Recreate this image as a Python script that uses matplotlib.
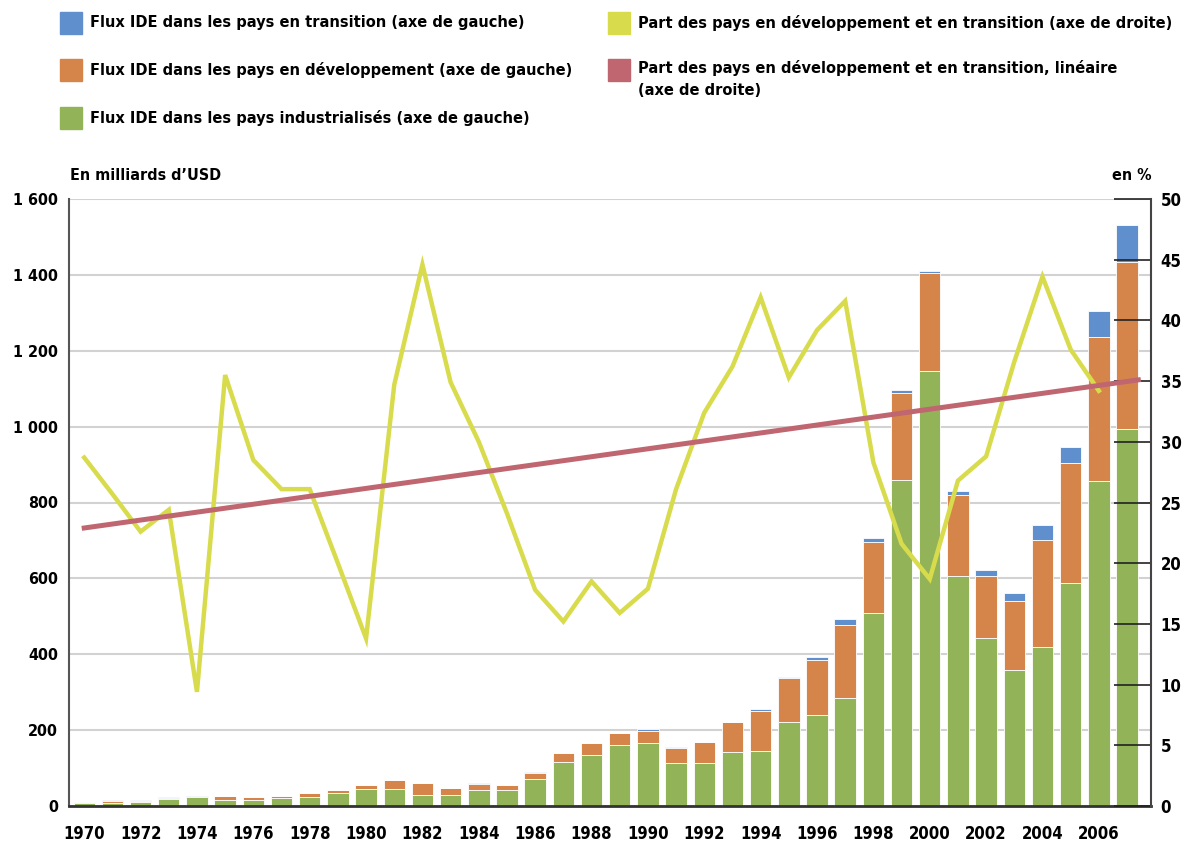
import numpy as np
import matplotlib.pyplot as plt
from matplotlib.patches import Rectangle

# données
years = list(range(1970, 2008))
industrialises = [7, 9, 11, 18, 24, 16, 16, 20, 24, 34, 46, 46, 30, 30, 41, 41, 72, 117, 135,
                  162, 166, 113, 113, 142, 146, 221, 240, 285, 509, 860, 1146, 606, 442, 359,
                  420, 587, 857, 993]
developpement = [4, 4, 2, 4, 1, 11, 7, 7, 10, 7, 10, 23, 31, 18, 16, 15, 15, 22, 30, 30, 33,
                 41, 56, 80, 105, 117, 146, 192, 187, 228, 258, 213, 164, 181, 280, 318, 378, 440]
transition = [0.5, 3, 3, 2, 2, 0.5, 0.3, 0.3, 0.3, 0.3, 0.3, 0.3, 0.3, 0.3, 3, 0.5, 3, 0.5,
              0.5, 0.5, 3.5, 0.5, 0.5, 0.5, 4, 3, 8, 15, 10, 8, 7, 10, 15, 21, 40, 41, 70, 98]
part_years = list(range(1970, 2007))
part = [28.7, 25.7, 22.6, 24.4, 9.4, 35.5, 28.5, 26.1, 26.1, 20.0, 13.8, 34.7, 44.6, 34.9,
        30.0, 24.1, 17.8, 15.2, 18.5, 15.9, 17.9, 26.1, 32.4, 36.2, 41.9, 35.3, 39.2, 41.6,
        28.3, 21.6, 18.7, 26.8, 28.8, 36.6, 43.6, 37.6, 34.2]
trend_years = [1970, 2007.4]
trend = [22.9, 35.1]

left_ticks = [0, 200, 400, 600, 800, 1000, 1200, 1400, 1600]
left_labels = ['0', '200', '400', '600', '800', '1 000', '1 200', '1 400', '1 600']
right_ticks = [0, 5, 10, 15, 20, 25, 30, 35, 40, 45, 50]
x_ticks = list(range(1970, 2007, 2))

legend_labels = ['Flux IDE dans les pays en transition (axe de gauche)',
                 'Flux IDE dans les pays en développement (axe de gauche)',
                 'Flux IDE dans les pays industrialisés (axe de gauche)',
                 'Part des pays en développement et en transition (axe de droite)',
                 'Part des pays en développement et en transition, linéaire\n(axe de droite)']

c_blue = '#5f8fcc'
c_orange = '#d6854a'
c_green = '#93b358'
c_yellow = '#d8dc4c'
c_red = '#bf6670'

plt.rcParams['font.family'] = ['DejaVu Sans']
plt.rcParams['font.stretch'] = 'condensed'
plt.rcParams['font.weight'] = 'bold'

W, H = 1186, 843
fig = plt.figure(figsize=(W / 100, H / 100), dpi=100)


def fx(x):
    return x / W


def fy(y):
    return 1 - y / H


ax = fig.add_axes([fx(69), fy(806), fx(1151) - fx(69), fy(199) - fy(806)])

bottom2 = np.array(industrialises) + np.array(developpement)
kw = dict(width=0.76, edgecolor='white', linewidth=0.6, zorder=2)
ax.bar(years, industrialises, color=c_green, **kw)
ax.bar(years, developpement, bottom=industrialises, color=c_orange, **kw)
ax.bar(years, transition, bottom=bottom2, color=c_blue, **kw)

ax.set_xlim(1969.46, 2007.85)
ax.set_ylim(0, 1600)
ax.set_yticks(left_ticks)
ax.set_yticklabels(left_labels)
ax.set_xticks(x_ticks)
ax.set_xticklabels([str(y) for y in x_ticks])
ax.tick_params(axis='y', length=0, pad=8, labelsize=11.5)
ax.tick_params(axis='x', length=0, pad=14, labelsize=12)
ax.grid(axis='y', color='#d2d2d2', linewidth=1.5)
ax.set_axisbelow(True)
for s in ['top', 'right']:
    ax.spines[s].set_visible(False)
ax.spines['left'].set_color('#555555')
ax.spines['left'].set_linewidth(1.5)
ax.spines['bottom'].set_color('#333333')
ax.spines['bottom'].set_linewidth(2)

ax2 = ax.twinx()
ax2.plot(part_years, part, color=c_yellow, linewidth=3.2, solid_joinstyle='miter', zorder=3)
ax2.plot(trend_years, trend, color=c_red, linewidth=3.6, zorder=4)
ax2.set_ylim(0, 50)
ax2.set_yticks(right_ticks)
ax2.tick_params(axis='y', direction='in', length=27, width=1.2, color='#222222',
                pad=7, labelsize=12)
for s in ['top', 'left', 'bottom']:
    ax2.spines[s].set_visible(False)
ax2.spines['right'].set_color('#444444')
ax2.spines['right'].set_linewidth(1.5)

# titres d'axes
fig.text(fx(70), fy(175), 'En milliards d\u2019USD', fontsize=11.5, va='center', ha='left')
fig.text(fx(1152), fy(176), 'en %', fontsize=11.5, va='center', ha='right')

# légende
leg_items = [(60, 23, c_blue, legend_labels[0]),
             (60, 70, c_orange, legend_labels[1]),
             (60, 118, c_green, legend_labels[2]),
             (608, 23, c_yellow, legend_labels[3]),
             (608, 70, c_red, legend_labels[4])]
for x0, yc, col, lab in leg_items:
    fig.patches.append(Rectangle((fx(x0), fy(yc + 11)), 22 / W, 22 / H, color=col,
                                 transform=fig.transFigure, figure=fig))
    fig.text(fx(x0 + 30), fy(yc), lab, fontsize=11.7, va='top' if '\n' in lab else 'center',
             ha='left', linespacing=1.55)

# la dernière entrée tient sur deux lignes
fig.texts[-1].set_position((fx(638), fy(60)))

plt.savefig('out.png', dpi=100)
